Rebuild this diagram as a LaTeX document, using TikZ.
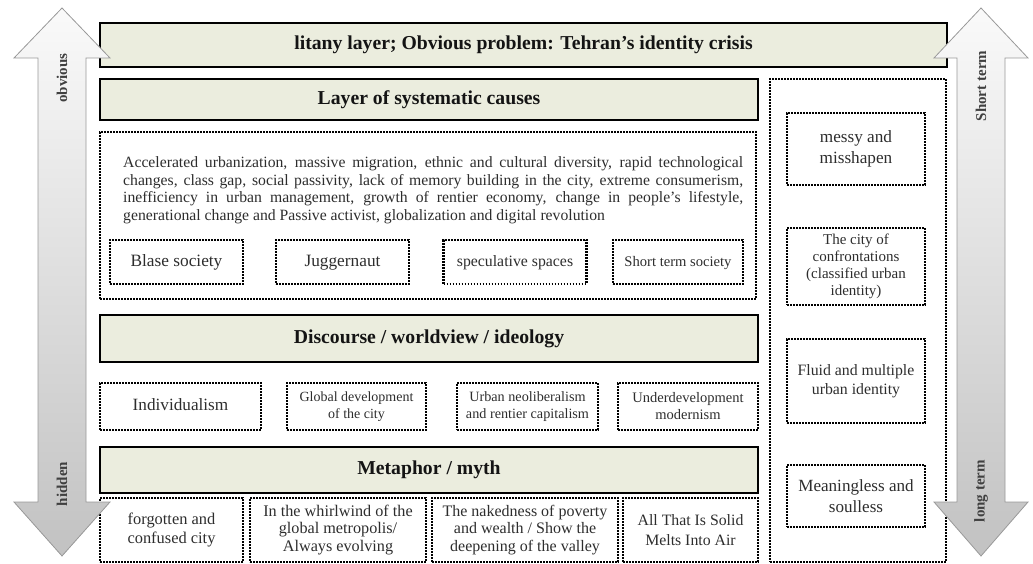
\documentclass[tikz,border=0pt]{standalone}
\usepackage{fontspec}
\setmainfont{Liberation Serif}
\definecolor{boxfill}{RGB}{235,237,222}
\definecolor{txt}{RGB}{45,45,45}
\newcommand\jline[1]{\makebox[620pt][s]{#1}}
\newcommand\fs[1]{\fontsize{#1}{19}\selectfont}
\begin{document}
\begin{tikzpicture}[x=1pt,y=-1pt,
  layerbox/.style={draw=black, line width=2.6pt, fill=boxfill, inner sep=0pt,
    font=\bfseries\fontsize{19.7}{22}\selectfont, text=black!92},
  dotbox/.style={draw=black, line width=2.3pt, dash pattern=on 1.8pt off 1.2pt,
    inner sep=0pt, align=center, text=txt},
  oneline/.style={text height=11.5pt, text depth=3.5pt},
  arrowbody/.style={draw=gray!80, line width=0.8pt, top color=gray!4, bottom color=gray!48},
  arrowlabel/.style={rotate=90, font=\bfseries\fontsize{15}{17}\selectfont, text=black!75},
]
\useasboundingbox (0,0) rectangle (1033,564);

% layer bars
\node[layerbox, minimum width=847pt, minimum height=44pt] (litany) at (523.5,45)
  {litany layer; Obvious problem: Tehran's identity crisis};
\node[layerbox, minimum width=658pt, minimum height=41pt] (sys) at (429,99.5)
  {Layer of systematic causes};
\node[layerbox, minimum width=658pt, minimum height=47pt] (disc) at (429,338.5)
  {Discourse / worldview / ideology};
\node[layerbox, minimum width=658pt, minimum height=46pt] (meta) at (429,470)
  {Metaphor / myth};

% systematic causes block
\node[dotbox, minimum width=656pt, minimum height=167pt] (causes) at (428,215.5) {};
\node[anchor=north west, inner sep=0pt, align=left, text=txt,
  font=\fontsize{15.7}{17.7}\selectfont] (para) at (123,156.5)
  {\jline{Accelerated urbanization, massive migration, ethnic and cultural diversity, rapid technological}\\
   \jline{changes, class gap, social passivity, lack of memory building in the city, extreme consumerism,}\\
   \jline{inefficiency in urban management, growth of rentier economy, change in people's lifestyle,}\\
   generational change and Passive activist, globalization and digital revolution};

\node[dotbox, oneline, minimum width=133pt, minimum height=44pt, font=\fs{17.3}] (blase) at (176.5,262) {Blase society};
\node[dotbox, oneline, minimum width=133pt, minimum height=44pt, font=\fs{17.3}] (jugg) at (342.5,262) {Juggernaut};
\node[dotbox, oneline, minimum width=143pt, minimum height=44pt, font=\fs{15.8}] (spec) at (515,262) {speculative spaces};
\node[dotbox, oneline, minimum width=130pt, minimum height=44pt, font=\fs{14.6}] (short) at (678,262) {Short term society};

% discourse row
\node[dotbox, oneline, minimum width=161pt, minimum height=47pt, font=\fs{17.2}] (indiv) at (180.5,406.5) {Individualism};
\node[dotbox, minimum width=139pt, minimum height=47pt, font=\fontsize{14}{16.5}\selectfont] (glob) at (356.5,406.5) {Global development\\of the city};
\node[dotbox, minimum width=141pt, minimum height=47pt, font=\fontsize{14.2}{16.5}\selectfont] (neo) at (527.5,406.5) {Urban neoliberalism\\and rentier capitalism};
\node[dotbox, minimum width=140pt, minimum height=47pt, font=\fontsize{14.5}{17}\selectfont] (under) at (688,406.5) {Underdevelopment\\modernism};

% metaphor row
\node[dotbox, minimum width=143pt, minimum height=64pt, font=\fontsize{16.4}{19.5}\selectfont] (forg) at (171.5,530) {forgotten and\\confused city};
\node[dotbox, minimum width=176pt, minimum height=64pt, font=\fontsize{16.2}{17.8}\selectfont] (whirl) at (338,530) {In the whirlwind of the\\global metropolis/\\Always evolving};
\node[dotbox, minimum width=186pt, minimum height=64pt, font=\fontsize{16}{17.8}\selectfont] (naked) at (525,530) {The nakedness of poverty\\and wealth / Show the\\deepening of the valley};
\node[dotbox, minimum width=135pt, minimum height=64pt, font=\fontsize{15.8}{20.5}\selectfont] (solid) at (690.5,530) {All That Is Solid\\Melts Into Air};

% right column
\node[dotbox, minimum width=176pt, minimum height=483pt] (right) at (858,320.5) {};
\node[dotbox, minimum width=138pt, minimum height=72pt, font=\fontsize{17.2}{20.5}\selectfont] (messy) at (856,149) {messy and\\misshapen};
\node[dotbox, minimum width=138pt, minimum height=77pt, font=\fontsize{15}{17.2}\selectfont] (conf) at (856,266.5) {The city of\\confrontations\\(classified urban\\identity)};
\node[dotbox, minimum width=138pt, minimum height=84pt, font=\fontsize{15.8}{19.5}\selectfont] (fluid) at (856,381) {Fluid and multiple\\urban identity};
\node[dotbox, minimum width=138pt, minimum height=62pt, font=\fontsize{17.1}{20.5}\selectfont] (mean) at (856,496) {Meaningless and\\soulless};

% double arrows
\path[arrowbody] (62,8) -- (110,58) -- (86,58) -- (86,502) -- (110,502) -- (62,556)
  -- (14,502) -- (38,502) -- (38,58) -- (14,58) -- cycle;
\path[arrowbody] (981,8) -- (1028,58) -- (1005,58) -- (1005,502) -- (1028,502) -- (981,556)
  -- (934,502) -- (957,502) -- (957,58) -- (934,58) -- cycle;
\node[arrowlabel] (obv) at (62,78) {obvious};
\node[arrowlabel] (hid) at (62,484) {hidden};
\node[arrowlabel] (st) at (981,86) {Short term};
\node[arrowlabel] (lt) at (981,491) {long term};
\end{tikzpicture}
\end{document}
